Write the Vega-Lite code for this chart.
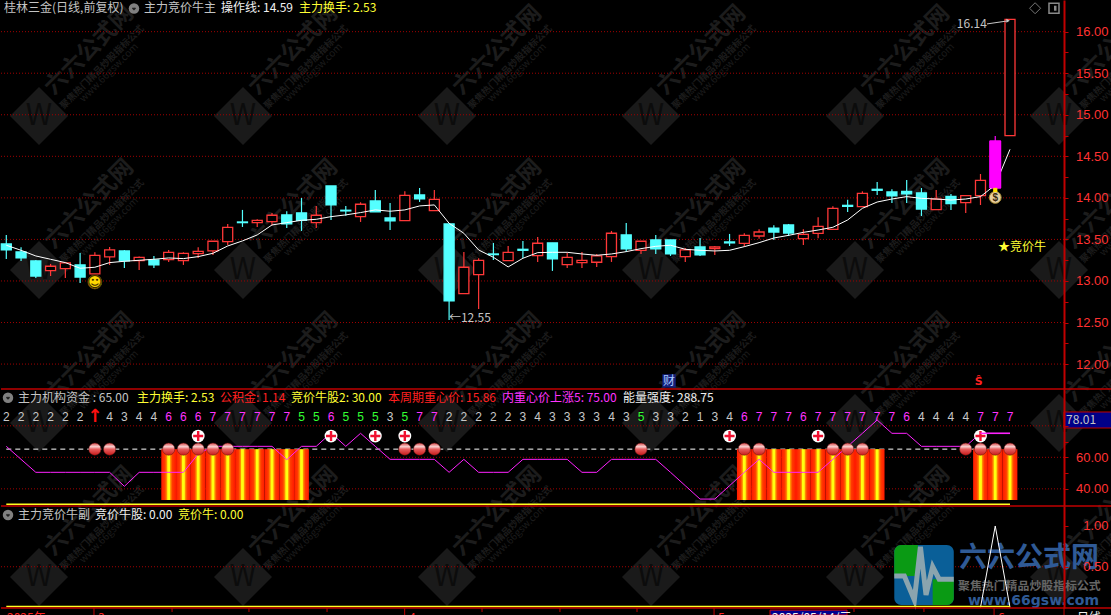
{
"$schema":"https://vega.github.io/schema/vega-lite/v6.json",
"background":"#000000","padding":0,"bounds":"flush","spacing":0,
"config":{"view":{"stroke":null},"concat":{"spacing":0},"text":{"font":"Noto Sans CJK SC","fontSize":12,"align":"left","baseline":"middle"}},
"resolve":{"scale":{"color":"independent","fill":"independent","stroke":"independent"}},
"datasets":{
"wm1":[{"i":2.215,"v":14.986},{"i":16.037,"v":14.986},{"i":29.858,"v":14.986},{"i":43.679,"v":14.986},{"i":57.5,"v":14.986},{"i":71.32,"v":14.986},{"i":2.215,"v":13.133},{"i":16.037,"v":13.133},{"i":29.858,"v":13.133},{"i":43.679,"v":13.133},{"i":57.5,"v":13.133},{"i":71.32,"v":13.133},{"i":2.215,"v":11.292},{"i":16.037,"v":11.292},{"i":29.858,"v":11.292},{"i":43.679,"v":11.292},{"i":57.5,"v":11.292},{"i":71.32,"v":11.292}],
"wm2":[{"i":2.215,"v":81.8},{"i":16.037,"v":81.8},{"i":29.858,"v":81.8},{"i":43.679,"v":81.8},{"i":57.5,"v":81.8},{"i":71.32,"v":81.8},{"i":2.215,"v":-15.9},{"i":16.037,"v":-15.9},{"i":29.858,"v":-15.9},{"i":43.679,"v":-15.9},{"i":57.5,"v":-15.9},{"i":71.32,"v":-15.9}],
"wm3":[{"i":2.215,"v":0.375},{"i":16.037,"v":0.375},{"i":29.858,"v":0.375},{"i":43.679,"v":0.375},{"i":57.5,"v":0.375},{"i":71.32,"v":0.375}],
"candles":[
{"i":0,"h":13.554,"t":13.446,"b":13.373,"l":13.265,"d":"d"},{"i":1,"h":13.405,"t":13.349,"b":13.277,"l":13.241,"d":"d"},{"i":2,"h":13.253,"t":13.241,"b":13.06,"l":13.036,"d":"d"},{"i":3,"h":13.205,"t":13.177,"b":13.125,"l":13.06,"d":"u"},{"i":4,"h":13.221,"t":13.217,"b":13.149,"l":13.036,"d":"u"},{"i":5,"h":13.337,"t":13.193,"b":13.048,"l":12.976,"d":"d"},{"i":6,"h":13.345,"t":13.309,"b":13.085,"l":13.085,"d":"u"},{"i":7,"h":13.409,"t":13.373,"b":13.289,"l":13.193,"d":"u"},{"i":8,"h":13.373,"t":13.361,"b":13.241,"l":13.157,"d":"d"},{"i":9,"h":13.293,"t":13.285,"b":13.245,"l":13.133,"d":"u"},
{"i":10,"h":13.301,"t":13.253,"b":13.193,"l":13.157,"d":"d"},{"i":11,"h":13.373,"t":13.345,"b":13.257,"l":13.229,"d":"u"},{"i":12,"h":13.345,"t":13.333,"b":13.245,"l":13.193,"d":"u"},{"i":13,"h":13.405,"t":13.357,"b":13.329,"l":13.277,"d":"u"},{"i":14,"h":13.478,"t":13.478,"b":13.361,"l":13.313,"d":"u"},{"i":15,"h":13.686,"t":13.646,"b":13.474,"l":13.434,"d":"u"},{"i":16,"h":13.855,"t":13.71,"b":13.702,"l":13.65,"d":"d"},{"i":17,"h":13.742,"t":13.73,"b":13.702,"l":13.65,"d":"u"},{"i":18,"h":13.819,"t":13.791,"b":13.714,"l":13.666,"d":"u"},{"i":19,"h":13.839,"t":13.795,"b":13.686,"l":13.638,"d":"d"},
{"i":20,"h":13.999,"t":13.819,"b":13.73,"l":13.602,"d":"d"},{"i":21,"h":13.903,"t":13.791,"b":13.702,"l":13.638,"d":"u"},{"i":22,"h":14.143,"t":14.143,"b":13.915,"l":13.734,"d":"d"},{"i":23,"h":13.903,"t":13.851,"b":13.843,"l":13.786,"d":"d"},{"i":24,"h":13.947,"t":13.923,"b":13.774,"l":13.71,"d":"u"},{"i":25,"h":14.095,"t":13.963,"b":13.831,"l":13.831,"d":"d"},{"i":26,"h":13.939,"t":13.758,"b":13.722,"l":13.614,"d":"d"},{"i":27,"h":14.079,"t":14.031,"b":13.726,"l":13.726,"d":"u"},{"i":28,"h":14.119,"t":14.035,"b":13.987,"l":13.951,"d":"d"},{"i":29,"h":14.095,"t":13.983,"b":13.847,"l":13.847,"d":"u"},
{"i":30,"h":13.686,"t":13.686,"b":12.76,"l":12.531,"d":"d"},{"i":31,"h":13.349,"t":13.165,"b":12.848,"l":12.848,"d":"u"},{"i":32,"h":13.273,"t":13.249,"b":13.077,"l":12.663,"d":"u"},{"i":33,"h":13.458,"t":13.325,"b":13.317,"l":13.253,"d":"d"},{"i":34,"h":13.421,"t":13.345,"b":13.245,"l":13.245,"d":"u"},{"i":35,"h":13.482,"t":13.381,"b":13.369,"l":13.277,"d":"d"},{"i":36,"h":13.53,"t":13.454,"b":13.305,"l":13.229,"d":"u"},{"i":37,"h":13.458,"t":13.458,"b":13.265,"l":13.121,"d":"d"},{"i":38,"h":13.337,"t":13.285,"b":13.197,"l":13.157,"d":"u"},{"i":39,"h":13.349,"t":13.249,"b":13.221,"l":13.157,"d":"u"},
{"i":40,"h":13.325,"t":13.301,"b":13.225,"l":13.169,"d":"u"},{"i":41,"h":13.602,"t":13.574,"b":13.293,"l":13.229,"d":"u"},{"i":42,"h":13.698,"t":13.554,"b":13.385,"l":13.349,"d":"d"},{"i":43,"h":13.478,"t":13.478,"b":13.369,"l":13.325,"d":"u"},{"i":44,"h":13.554,"t":13.494,"b":13.385,"l":13.325,"d":"d"},{"i":45,"h":13.494,"t":13.494,"b":13.325,"l":13.301,"d":"d"},{"i":46,"h":13.397,"t":13.373,"b":13.293,"l":13.229,"d":"u"},{"i":47,"h":13.518,"t":13.409,"b":13.313,"l":13.301,"d":"d"},{"i":48,"h":13.421,"t":13.409,"b":13.389,"l":13.313,"d":"u"},{"i":49,"h":13.566,"t":13.47,"b":13.458,"l":13.421,"d":"d"},
{"i":50,"h":13.573,"t":13.549,"b":13.453,"l":13.413,"d":"u"},{"i":51,"h":13.621,"t":13.589,"b":13.541,"l":13.509,"d":"u"},{"i":52,"h":13.67,"t":13.637,"b":13.589,"l":13.493,"d":"d"},{"i":53,"h":13.686,"t":13.674,"b":13.577,"l":13.541,"d":"d"},{"i":54,"h":13.621,"t":13.561,"b":13.509,"l":13.433,"d":"u"},{"i":55,"h":13.766,"t":13.658,"b":13.573,"l":13.513,"d":"u"},{"i":56,"h":13.898,"t":13.874,"b":13.621,"l":13.621,"d":"u"},{"i":57,"h":13.978,"t":13.91,"b":13.898,"l":13.83,"d":"d"},{"i":58,"h":14.079,"t":14.055,"b":13.894,"l":13.894,"d":"u"},{"i":59,"h":14.191,"t":14.103,"b":14.091,"l":14.035,"d":"d"},
{"i":60,"h":14.103,"t":14.071,"b":14.023,"l":13.938,"d":"d"},{"i":61,"h":14.215,"t":14.079,"b":14.047,"l":13.938,"d":"d"},{"i":62,"h":14.119,"t":14.059,"b":13.866,"l":13.782,"d":"d"},{"i":63,"h":14.095,"t":13.986,"b":13.858,"l":13.858,"d":"u"},{"i":64,"h":14.047,"t":14.019,"b":13.93,"l":13.854,"d":"d"},{"i":65,"h":14.027,"t":14.027,"b":13.942,"l":13.818,"d":"u"},{"i":66,"h":14.287,"t":14.211,"b":14.027,"l":13.914,"d":"u"},{"i":67,"h":14.745,"t":14.684,"b":14.119,"l":14.119,"d":"m"},{"i":68,"h":16.148,"t":16.148,"b":14.749,"l":14.749,"d":"u"}],
"ma":[{"i":0,"v":13.43},{"i":1,"v":13.369},{"i":2,"v":13.301},{"i":3,"v":13.261},{"i":4,"v":13.221},{"i":5,"v":13.153},{"i":6,"v":13.165},{"i":7,"v":13.221},{"i":8,"v":13.237},{"i":9,"v":13.249},{"i":10,"v":13.261},{"i":11,"v":13.277},{"i":12,"v":13.269},{"i":13,"v":13.293},{"i":14,"v":13.333},{"i":15,"v":13.421},{"i":16,"v":13.482},{"i":17,"v":13.554},{"i":18,"v":13.674},{"i":19,"v":13.702},{"i":20,"v":13.73},{"i":21,"v":13.742},{"i":22,"v":13.774},{"i":23,"v":13.795},{"i":24,"v":13.823},{"i":25,"v":13.855},{"i":26,"v":13.839},{"i":27,"v":13.855},{"i":28,"v":13.903},{"i":29,"v":13.915},{"i":30,"v":13.694},{"i":31,"v":13.574},{"i":32,"v":13.373},{"i":33,"v":13.285},{"i":34,"v":13.169},{"i":35,"v":13.273},{"i":36,"v":13.341},{"i":37,"v":13.345},{"i":38,"v":13.345},{"i":39,"v":13.325},{"i":40,"v":13.309},{"i":41,"v":13.325},{"i":42,"v":13.353},{"i":43,"v":13.389},{"i":44,"v":13.417},{"i":45,"v":13.43},{"i":46,"v":13.381},{"i":47,"v":13.369},{"i":48,"v":13.361},{"i":49,"v":13.369},{"i":50,"v":13.413},{"i":51,"v":13.461},{"i":52,"v":13.517},{"i":53,"v":13.549},{"i":54,"v":13.585},{"i":55,"v":13.613},{"i":56,"v":13.646},{"i":57,"v":13.734},{"i":58,"v":13.874},{"i":59,"v":13.95},{"i":60,"v":13.986},{"i":61,"v":14.015},{"i":62,"v":13.994},{"i":63,"v":13.986},{"i":64,"v":13.974},{"i":65,"v":13.986},{"i":66,"v":14.015},{"i":67,"v":14.155},{"i":68,"v":14.584}],
"force":[{"i":0,"v":66.98},{"i":1,"v":58.73},{"i":2,"v":50.48},{"i":3,"v":50.48},{"i":4,"v":50.48},{"i":5,"v":50.48},{"i":6,"v":50.48},{"i":7,"v":50.48},{"i":8,"v":41.59},{"i":9,"v":50.48},{"i":10,"v":50.48},{"i":11,"v":50.48},{"i":12,"v":50.48},{"i":13,"v":62.12},{"i":14,"v":66.98},{"i":15,"v":66.98},{"i":16,"v":66.98},{"i":17,"v":66.98},{"i":18,"v":66.98},{"i":19,"v":58.5},{"i":20,"v":66.98},{"i":21,"v":66.98},{"i":22,"v":75.45},{"i":23,"v":66.98},{"i":24,"v":75.24},{"i":25,"v":66.98},{"i":26,"v":58.73},{"i":27,"v":58.73},{"i":28,"v":58.73},{"i":29,"v":58.73},{"i":30,"v":50.48},{"i":31,"v":58.73},{"i":32,"v":50.48},{"i":33,"v":50.48},{"i":34,"v":50.48},{"i":35,"v":58.73},{"i":36,"v":58.73},{"i":37,"v":58.73},{"i":38,"v":58.73},{"i":39,"v":50.48},{"i":40,"v":50.48},{"i":41,"v":58.73},{"i":42,"v":58.73},{"i":43,"v":58.73},{"i":44,"v":58.73},{"i":45,"v":50.48},{"i":46,"v":42.0},{"i":47,"v":33.5},{"i":48,"v":33.5},{"i":49,"v":42.0},{"i":50,"v":50.48},{"i":51,"v":58.73},{"i":52,"v":50.48},{"i":53,"v":50.48},{"i":54,"v":50.48},{"i":55,"v":50.48},{"i":56,"v":58.73},{"i":57,"v":66.98},{"i":58,"v":75.24},{"i":59,"v":83.7},{"i":60,"v":75.24},{"i":61,"v":75.24},{"i":62,"v":66.98},{"i":63,"v":66.98},{"i":64,"v":66.98},{"i":65,"v":66.98},{"i":66,"v":75.24},{"i":67,"v":75.24},{"i":68,"v":75.24}],
"digits":[{"i":0,"n":2,"v":85.8},{"i":1,"n":2,"v":85.8},{"i":2,"n":2,"v":85.8},{"i":3,"n":2,"v":85.8},{"i":4,"n":2,"v":85.8},{"i":5,"n":2,"v":85.8},{"i":7,"n":4,"v":85.8},{"i":8,"n":3,"v":85.8},{"i":9,"n":4,"v":85.8},{"i":10,"n":4,"v":85.8},{"i":11,"n":6,"v":85.8},{"i":12,"n":6,"v":85.8},{"i":13,"n":6,"v":85.8},{"i":14,"n":7,"v":85.8},{"i":15,"n":7,"v":85.8},{"i":16,"n":7,"v":85.8},{"i":17,"n":7,"v":85.8},{"i":18,"n":7,"v":85.8},{"i":19,"n":7,"v":85.8},{"i":20,"n":5,"v":85.8},{"i":21,"n":5,"v":85.8},{"i":22,"n":6,"v":85.8},{"i":23,"n":5,"v":85.8},{"i":24,"n":5,"v":85.8},{"i":25,"n":5,"v":85.8},{"i":26,"n":3,"v":85.8},{"i":27,"n":5,"v":85.8},{"i":28,"n":7,"v":85.8},{"i":29,"n":7,"v":85.8},{"i":30,"n":2,"v":85.8},{"i":31,"n":2,"v":85.8},{"i":32,"n":2,"v":85.8},{"i":33,"n":2,"v":85.8},{"i":34,"n":2,"v":85.8},{"i":35,"n":3,"v":85.8},{"i":36,"n":4,"v":85.8},{"i":37,"n":3,"v":85.8},{"i":38,"n":3,"v":85.8},{"i":39,"n":3,"v":85.8},{"i":40,"n":3,"v":85.8},{"i":41,"n":4,"v":85.8},{"i":42,"n":3,"v":85.8},{"i":43,"n":5,"v":85.8},{"i":44,"n":3,"v":85.8},{"i":45,"n":3,"v":85.8},{"i":46,"n":2,"v":85.8},{"i":47,"n":1,"v":85.8},{"i":48,"n":3,"v":85.8},{"i":49,"n":4,"v":85.8},{"i":50,"n":6,"v":85.8},{"i":51,"n":7,"v":85.8},{"i":52,"n":7,"v":85.8},{"i":53,"n":7,"v":85.8},{"i":54,"n":6,"v":85.8},{"i":55,"n":7,"v":85.8},{"i":56,"n":7,"v":85.8},{"i":57,"n":7,"v":85.8},{"i":58,"n":7,"v":85.8},{"i":59,"n":7,"v":85.8},{"i":60,"n":7,"v":85.8},{"i":61,"n":6,"v":85.8},{"i":62,"n":4,"v":85.8},{"i":63,"n":4,"v":85.8},{"i":64,"n":4,"v":85.8},{"i":65,"n":4,"v":85.8},{"i":66,"n":7,"v":85.8},{"i":67,"n":7,"v":85.8},{"i":68,"n":7,"v":85.8}],
"bars":[{"i":11,"v":65.2,"v2":32.9},{"i":12,"v":65.2,"v2":32.9},{"i":13,"v":65.2,"v2":32.9},{"i":14,"v":65.2,"v2":32.9},{"i":15,"v":65.2,"v2":32.9},{"i":16,"v":65.2,"v2":32.9},{"i":17,"v":65.2,"v2":32.9},{"i":18,"v":65.2,"v2":32.9},{"i":19,"v":65.2,"v2":32.9},{"i":20,"v":65.2,"v2":32.9},{"i":50,"v":65.2,"v2":32.9},{"i":51,"v":65.2,"v2":32.9},{"i":52,"v":65.2,"v2":32.9},{"i":53,"v":65.2,"v2":32.9},{"i":54,"v":65.2,"v2":32.9},{"i":55,"v":65.2,"v2":32.9},{"i":56,"v":65.2,"v2":32.9},{"i":57,"v":65.2,"v2":32.9},{"i":58,"v":65.2,"v2":32.9},{"i":59,"v":65.2,"v2":32.9},{"i":66,"v":65.2,"v2":32.9},{"i":67,"v":65.2,"v2":32.9},{"i":68,"v":65.2,"v2":32.9}],
"balls":[{"i":6,"v":65.2},{"i":7,"v":65.2},{"i":11,"v":65.2},{"i":12,"v":65.2},{"i":13,"v":65.2},{"i":14,"v":65.2},{"i":15,"v":65.2},{"i":27,"v":65.2},{"i":28,"v":65.2},{"i":29,"v":65.2},{"i":43,"v":65.2},{"i":50,"v":65.2},{"i":51,"v":65.2},{"i":56,"v":65.2},{"i":57,"v":65.2},{"i":58,"v":65.2},{"i":65,"v":65.2},{"i":66,"v":65.2},{"i":67,"v":65.2},{"i":68,"v":65.2}],
"plus":[{"i":13,"v":73.5},{"i":22,"v":73.5},{"i":25,"v":73.5},{"i":27,"v":73.5},{"i":49,"v":73.5},{"i":55,"v":73.5},{"i":66,"v":73.5}],
"lab1":[{"i":-0.156,"v":16.279,"t":"桂林三金(日线,前复权)","tone":"grey"},{"i":9.329,"v":16.279,"t":"主力竞价牛主","tone":"grey"},{"i":14.546,"v":16.279,"t":"操作线: 14.59","tone":"white"},{"i":19.831,"v":16.279,"t":"主力换手: 2.53","tone":"yellow"},{"i":64.4,"v":16.087,"t":"16.14","tone":"grey"},{"i":29.99,"v":12.551,"t":"←12.55","tone":"grey"},{"i":67.19,"v":13.409,"t":"★竞价牛","tone":"yellow"}],
"lab2":[{"i":0.793,"v":97.86,"t":"主力机构资金 : 65.00","tone":"grey"},{"i":8.855,"v":97.86,"t":"主力换手: 2.53","tone":"yellow"},{"i":14.479,"v":97.86,"t":"公积金: 1.14","tone":"red"},{"i":19.289,"v":97.86,"t":"竞价牛股2: 30.00","tone":"yellow"},{"i":25.861,"v":97.86,"t":"本周期重心价: 15.86","tone":"red"},{"i":33.585,"v":97.86,"t":"内重心价上涨5: 75.00","tone":"magenta"},{"i":41.783,"v":97.86,"t":"能量强度: 288.75","tone":"white"},{"i":71.8,"v":83.7,"t":"78.01","tone":"grey"}],
"lab3":[{"i":0.793,"v":1.135,"t":"主力竞价牛副","tone":"grey"},{"i":6.009,"v":1.135,"t":"竞价牛股: 0.00","tone":"white"},{"i":11.632,"v":1.135,"t":"竞价牛: 0.00","tone":"yellow"}],
"lab4":[{"i":0.05,"v":0.286,"t":"2025年","tone":"red"},{"i":6.21,"v":0.286,"t":"3","tone":"red"},{"i":27.28,"v":0.286,"t":"4","tone":"red"},{"i":48.22,"v":0.286,"t":"5","tone":"red"},{"i":51.88,"v":0.286,"t":"2025/05/14/三","tone":"white"},{"i":67.19,"v":0.286,"t":"6","tone":"red"},{"i":72.54,"v":0.286,"t":"日线","tone":"white"}],
"ticks4":[{"i":5.94,"v":1,"v2":0},{"i":11.23,"v":1,"v2":0.43},{"i":16.44,"v":1,"v2":0.43},{"i":21.73,"v":1,"v2":0.43},{"i":26.99,"v":1,"v2":0},{"i":32.23,"v":1,"v2":0.43},{"i":37.51,"v":1,"v2":0.43},{"i":42.73,"v":1,"v2":0.43},{"i":47.95,"v":1,"v2":0},{"i":57.43,"v":1,"v2":0.43},{"i":62.17,"v":1,"v2":0.43},{"i":66.92,"v":1,"v2":0},{"i":71.66,"v":1,"v2":0}]
},
"vconcat":[
{"width":1111,"height":389,
"encoding":{"x":{"field":"i","type":"quantitative","axis":null,"scale":{"domain":[-0.359,74.91],"nice":false,"zero":false,"padding":0}},"y":{"field":"v","type":"quantitative","title":null,"scale":{"domain":[11.7,16.381],"nice":false,"zero":false},"axis":{"orient":"right","offset":-48,"grid":false,"zindex":1,"values":[12,12.25,12.5,12.75,13,13.25,13.5,13.75,14,14.25,14.5,14.75,15,15.25,15.5,15.75,16],"labelExpr":"datum.value*2==floor(datum.value*2)?format(datum.value,'.2f'):''","labelColor":"#ff3232","labelFont":"Liberation Sans","labelFontSize":13,"labelAlign":"right","labelPadding":40,"labelOverlap":false,"labelBound":false,"labelFlush":false,"tickSize":4,"tickColor":"#c00000","domainColor":"#c00000","domainWidth":2}}},
"layer":[
{"data":{"name":"wm1"},"mark":{"type":"point","shape":"diamond","filled":true,"opacity":1,"size":3364,"color":"#1a1a1a","clip":true}},
{"data":{"name":"wm1"},"mark":{"type":"text","text":"W","fontSize":30,"align":"center","color":"#0c0c0c","clip":true}},
{"data":{"name":"wm1"},"mark":{"type":"text","text":"六六公式网","fontSize":23,"fontWeight":"bold","align":"center","angle":-45,"dx":82,"dy":-11,"color":"#1c1c1c","clip":true}},
{"data":{"name":"wm1"},"mark":{"type":"text","text":"聚焦热门精品炒股指标公式","fontSize":9.5,"fontWeight":"bold","align":"center","angle":-45,"dx":79,"dy":10,"color":"#1c1c1c","clip":true}},
{"data":{"name":"wm1"},"mark":{"type":"text","text":"www.66gsw.com","fontSize":10,"align":"center","angle":-45,"dx":80,"dy":19,"color":"#1c1c1c","clip":true}},
{"data":{"values":[{"i":-0.359,"i2":71.66,"v":16},{"i":-0.359,"i2":71.66,"v":15.5},{"i":-0.359,"i2":71.66,"v":15},{"i":-0.359,"i2":71.66,"v":14.5},{"i":-0.359,"i2":71.66,"v":14},{"i":-0.359,"i2":71.66,"v":13.5},{"i":-0.359,"i2":71.66,"v":13},{"i":-0.359,"i2":71.66,"v":12.5},{"i":-0.359,"i2":71.66,"v":12}]},"mark":{"type":"rule","color":"#a00000","strokeDash":[1,2]},"encoding":{"x2":{"field":"i2"}}},
{"data":{"name":"candles"},"mark":{"type":"rule","strokeWidth":1.2},"encoding":{"y":{"field":"h","type":"quantitative","title":null},"y2":{"field":"l"},"stroke":{"field":"d","type":"nominal","legend":null,"scale":{"domain":["u","d","m"],"range":["#ff3838","#54ffff","#ff00ff"]}}}},
{"data":{"name":"candles"},"mark":{"type":"bar","width":10,"strokeWidth":1.3,"orient":"vertical"},"encoding":{"y":{"field":"t","type":"quantitative","title":null},"y2":{"field":"b"},"fill":{"field":"d","type":"nominal","legend":null,"scale":{"domain":["u","d","m"],"range":["#000000","#54ffff","#ff00ff"]}},"stroke":{"field":"d","type":"nominal","legend":null,"scale":{"domain":["u","d","m"],"range":["#ff3838","#54ffff","#ff00ff"]}}}},
{"data":{"name":"ma"},"mark":{"type":"line","color":"#ffffff","strokeWidth":1}},
{"data":{"name":"candles"},"transform":[{"filter":"datum.d=='m'"}],"mark":{"type":"bar","width":12,"color":"#ff00ff","orient":"vertical"},"encoding":{"y":{"field":"t","type":"quantitative","title":null},"y2":{"field":"b"}}},
{"data":{"values":[{"i":66.44,"v":16.093},{"i":67.87,"v":16.13}]},"mark":{"type":"line","color":"#c8c8c8","strokeWidth":1}},
{"data":{"values":[{"i":67.87,"v":16.13}]},"mark":{"type":"point","shape":"triangle-right","filled":true,"opacity":1,"size":16,"color":"#c8c8c8"}},
{"data":{"values":[{"i":6,"v":12.988}]},"mark":{"type":"point","shape":"circle","filled":true,"opacity":1,"size":190,"color":"#ffd800","stroke":"#6b4b00","strokeWidth":1}},
{"data":{"values":[{"i":6,"v":12.988}]},"mark":{"type":"text","text":"☺","font":"DejaVu Sans","fontSize":15,"align":"center","color":"#3b2a00"}},
{"data":{"values":[{"i":67,"v":14.005}]},"mark":{"type":"point","shape":"circle","filled":true,"opacity":1,"size":140,"color":"#e8cfa0","stroke":"#a88a30","strokeWidth":1}},
{"data":{"values":[{"i":67,"v":14.095}]},"mark":{"type":"point","shape":"square","filled":true,"opacity":1,"size":18,"color":"#ffe000"}},
{"data":{"values":[{"i":67,"v":14.0}]},"mark":{"type":"text","text":"$","font":"Liberation Sans","fontWeight":"bold","fontSize":10,"align":"center","color":"#3a2a10"}},
{"data":{"values":[{"i":44.9,"v":11.797}]},"mark":{"type":"point","shape":"square","filled":true,"opacity":1,"size":180,"color":"#14207a"}},
{"data":{"values":[{"i":44.9,"v":11.797}]},"mark":{"type":"text","text":"财","align":"center","color":"#a8c8ff"}},
{"data":{"values":[{"i":65.88,"v":11.785}]},"mark":{"type":"text","text":"Ŝ","font":"DejaVu Sans","fontSize":11,"fontWeight":"bold","align":"center","color":"#ff2020"}},
{"data":{"values":[{"i":8.65,"v":16.279}]},"mark":{"type":"point","shape":"circle","filled":true,"opacity":1,"size":110,"color":"#808080"}},
{"data":{"values":[{"i":8.65,"v":16.279}]},"mark":{"type":"point","shape":"M-0.5,-0.2L0,0.3L0.5,-0.2","filled":false,"opacity":1,"size":36,"color":"#202020","strokeWidth":1.5}},
{"data":{"values":[{"i":69.7,"v":16.282}]},"mark":{"type":"point","shape":"diamond","filled":false,"opacity":1,"size":121,"color":"#777777","strokeWidth":1}},
{"data":{"values":[{"i":70.98,"v":16.282}]},"mark":{"type":"point","shape":"square","filled":false,"opacity":1,"size":100,"color":"#8a8a8a","strokeWidth":1.5}},
{"data":{"values":[{"i":70.98,"v":16.282}]},"mark":{"type":"point","shape":"M0,-0.5L0.5,-0.5L0.5,0.5L0,0.5Z","filled":true,"opacity":1,"size":100,"color":"#8a8a8a"}},
{"data":{"name":"lab1"},"mark":{"type":"text"},"encoding":{"text":{"field":"t"},"color":{"field":"tone","type":"nominal","legend":null,"scale":{"domain":["grey","white","yellow","red","magenta"],"range":["#c4c4c4","#f0f0f0","#ffff33","#ff2020","#ff33ff"]}}}}
]},
{"width":1111,"height":117,
"encoding":{"x":{"field":"i","type":"quantitative","axis":null,"scale":{"domain":[-0.359,74.91],"nice":false,"zero":false,"padding":0}},"y":{"field":"v","type":"quantitative","title":null,"scale":{"domain":[29.1,103.38],"nice":false,"zero":false},"axis":{"orient":"right","offset":-48,"grid":false,"zindex":1,"values":[40,50,60,70,80],"labelExpr":"(datum.value==40||datum.value==60)?format(datum.value,'.2f'):''","labelColor":"#ff3232","labelFont":"Liberation Sans","labelFontSize":13,"labelAlign":"right","labelPadding":40,"labelOverlap":false,"labelBound":false,"labelFlush":false,"tickSize":4,"tickColor":"#c00000","domainColor":"#c00000","domainWidth":2}}},
"layer":[
{"data":{"name":"wm2"},"mark":{"type":"point","shape":"diamond","filled":true,"opacity":1,"size":3364,"color":"#1a1a1a","clip":true}},
{"data":{"name":"wm2"},"mark":{"type":"text","text":"W","fontSize":30,"align":"center","color":"#0c0c0c","clip":true}},
{"data":{"name":"wm2"},"mark":{"type":"text","text":"六六公式网","fontSize":23,"fontWeight":"bold","align":"center","angle":-45,"dx":82,"dy":-11,"color":"#1c1c1c","clip":true}},
{"data":{"name":"wm2"},"mark":{"type":"text","text":"聚焦热门精品炒股指标公式","fontSize":9.5,"fontWeight":"bold","align":"center","angle":-45,"dx":79,"dy":10,"color":"#1c1c1c","clip":true}},
{"data":{"name":"wm2"},"mark":{"type":"text","text":"www.66gsw.com","fontSize":10,"align":"center","angle":-45,"dx":80,"dy":19,"color":"#1c1c1c","clip":true}},
{"data":{"values":[{"i":-0.359,"i2":74.91,"v":103.38}]},"mark":{"type":"rule","color":"#c00000","strokeWidth":1.5},"encoding":{"x2":{"field":"i2"}}},
{"data":{"values":[{"i":-0.359,"i2":71.66,"v":80},{"i":-0.359,"i2":71.66,"v":60},{"i":-0.359,"i2":71.66,"v":40}]},"mark":{"type":"rule","color":"#a00000","strokeDash":[1,2]},"encoding":{"x2":{"field":"i2"}}},
{"data":{"values":[{"i":0,"i2":68,"v":65.2}]},"mark":{"type":"rule","color":"#ffffff","strokeDash":[5,4],"strokeWidth":1},"encoding":{"x2":{"field":"i2"}}},
{"data":{"name":"bars"},"mark":{"type":"bar","width":14.76,"orient":"vertical","color":{"gradient":"linear","x1":0,"x2":1,"y1":0,"y2":0,"stops":[{"offset":0,"color":"#ff1800"},{"offset":0.25,"color":"#ff3c00"},{"offset":0.37,"color":"#ff9000"},{"offset":0.44,"color":"#ffff10"},{"offset":0.56,"color":"#ffff10"},{"offset":0.63,"color":"#ff9000"},{"offset":0.75,"color":"#ff3c00"},{"offset":1,"color":"#ff1800"}]}},"encoding":{"y2":{"field":"v2"}}},
{"data":{"values":[{"i":0,"i2":68,"v":30.2}]},"mark":{"type":"rule","color":"#ffff20","strokeWidth":1.5},"encoding":{"x2":{"field":"i2"}}},
{"data":{"name":"force"},"mark":{"type":"line","color":"#ff22ff","strokeWidth":1}},
{"data":{"name":"balls"},"mark":{"type":"point","shape":"circle","filled":true,"opacity":1,"size":150,"strokeWidth":0.5,"stroke":"#601010","color":{"gradient":"linear","x1":0,"x2":0,"y1":0,"y2":1,"stops":[{"offset":0,"color":"#d84848"},{"offset":0.3,"color":"#f8d0d0"},{"offset":0.5,"color":"#e86060"},{"offset":1,"color":"#c81818"}]}}},
{"data":{"name":"plus"},"mark":{"type":"point","shape":"circle","filled":true,"opacity":1,"size":165,"color":"#ffffff"}},
{"data":{"name":"plus"},"mark":{"type":"point","shape":"M-0.5,-0.12L-0.12,-0.12L-0.12,-0.5L0.12,-0.5L0.12,-0.12L0.5,-0.12L0.5,0.12L0.12,0.12L0.12,0.5L-0.12,0.5L-0.12,0.12L-0.5,0.12Z","filled":true,"opacity":1,"size":400,"color":"#f01030"}},
{"data":{"values":[{"i":66,"v":75.24},{"i":68,"v":75.24}]},"mark":{"type":"line","color":"#ff22ff","strokeWidth":1.5}},
{"data":{"name":"digits"},"mark":{"type":"text","font":"Liberation Sans","align":"center","fontSize":12},"encoding":{"text":{"field":"n"},"fill":{"field":"n","type":"ordinal","legend":null,"scale":{"domain":[1,2,3,4,5,6,7],"range":["#c8c8c8","#c8c8c8","#c8c8c8","#c8c8c8","#33ff33","#ff33ff","#ff33ff"]}}}},
{"data":{"values":[{"i":6,"v":85.8}]},"mark":{"type":"text","text":"↑","font":"DejaVu Sans","fontSize":18,"fontWeight":"bold","align":"center","color":"#ff1010"}},
{"data":{"values":[{"i":0.115,"v":97.86}]},"mark":{"type":"point","shape":"circle","filled":true,"opacity":1,"size":110,"color":"#808080"}},
{"data":{"values":[{"i":0.115,"v":97.86}]},"mark":{"type":"point","shape":"M-0.5,-0.2L0,0.3L0.5,-0.2","filled":false,"opacity":1,"size":36,"color":"#202020","strokeWidth":1.5}},
{"data":{"values":[{"i":71.66,"i2":74.91,"v":88.78,"v2":78.62}]},"mark":{"type":"rect","color":"#000088","stroke":"#c00000","strokeWidth":1},"encoding":{"x2":{"field":"i2"},"y2":{"field":"v2"}}},
{"data":{"name":"lab2"},"mark":{"type":"text"},"encoding":{"text":{"field":"t"},"color":{"field":"tone","type":"nominal","legend":null,"scale":{"domain":["grey","white","yellow","red","magenta"],"range":["#c4c4c4","#f0f0f0","#ffff33","#ff2020","#ff33ff"]}}}}
]},
{"width":1111,"height":102,
"encoding":{"x":{"field":"i","type":"quantitative","axis":null,"scale":{"domain":[-0.359,74.91],"nice":false,"zero":false,"padding":0}},"y":{"field":"v","type":"quantitative","title":null,"scale":{"domain":[-0.006,1.245],"nice":false,"zero":false},"axis":{"orient":"right","offset":-48,"grid":false,"zindex":1,"values":[0.5,1],"format":".2f","labelColor":"#ff3232","labelFont":"Liberation Sans","labelFontSize":13,"labelAlign":"right","labelPadding":40,"labelOverlap":false,"labelBound":false,"labelFlush":false,"tickSize":4,"tickColor":"#c00000","domainColor":"#c00000","domainWidth":2}}},
"layer":[
{"data":{"name":"wm3"},"mark":{"type":"point","shape":"diamond","filled":true,"opacity":1,"size":3364,"color":"#1a1a1a","clip":true}},
{"data":{"name":"wm3"},"mark":{"type":"text","text":"W","fontSize":30,"align":"center","color":"#0c0c0c","clip":true}},
{"data":{"name":"wm3"},"mark":{"type":"text","text":"六六公式网","fontSize":23,"fontWeight":"bold","align":"center","angle":-45,"dx":82,"dy":-11,"color":"#1c1c1c","clip":true}},
{"data":{"name":"wm3"},"mark":{"type":"text","text":"聚焦热门精品炒股指标公式","fontSize":9.5,"fontWeight":"bold","align":"center","angle":-45,"dx":79,"dy":10,"color":"#1c1c1c","clip":true}},
{"data":{"name":"wm3"},"mark":{"type":"text","text":"www.66gsw.com","fontSize":10,"align":"center","angle":-45,"dx":80,"dy":19,"color":"#1c1c1c","clip":true}},
{"data":{"values":[{"i":-0.359,"i2":74.91,"v":1.245}]},"mark":{"type":"rule","color":"#c00000","strokeWidth":1.5},"encoding":{"x2":{"field":"i2"}}},
{"data":{"values":[{"i":-0.359,"i2":71.66,"v":0.5}]},"mark":{"type":"rule","color":"#a00000","strokeDash":[1,2]},"encoding":{"x2":{"field":"i2"}}},
{"data":{"values":[{"i":60.16,"i2":64.19,"v":0.767,"v2":0.032}]},"mark":{"type":"rect","color":"#0a5f98","cornerRadius":7},"encoding":{"x2":{"field":"i2"},"y2":{"field":"v2"}}},
{"data":{"values":[{"i":60.16,"i2":61.76,"v":0.767,"v2":0.387}]},"mark":{"type":"rect","color":"#0a9a14","cornerRadiusTopLeft":7},"encoding":{"x2":{"field":"i2"},"y2":{"field":"v2"}}},
{"data":{"values":[{"i":62.76,"i2":64.19,"v":0.347,"v2":0.032}]},"mark":{"type":"rect","color":"#0a9a14","cornerRadiusBottomRight":7},"encoding":{"x2":{"field":"i2"},"y2":{"field":"v2"}}},
{"data":{"values":[{"i":60.16,"v":0.387},{"i":60.84,"v":0.387},{"i":61.52,"v":0.093},{"i":61.93,"v":0.746},{"i":62.31,"v":0.154},{"i":62.76,"v":0.501},{"i":63.2,"v":0.347},{"i":64.19,"v":0.347}]},"mark":{"type":"line","color":"#8aa4ae","strokeWidth":5,"strokeJoin":"miter"}},
{"data":{"values":[{"i":64.55,"v":0.595}]},"mark":{"type":"text","text":"六六公式网","fontSize":28,"fontWeight":"bold","color":"#2f5a96"}},
{"data":{"values":[{"i":64.48,"v":0.265}]},"mark":{"type":"text","text":"聚焦热门精品炒股指标公式","fontSize":11.9,"fontWeight":"bold","color":"#666666"}},
{"data":{"values":[{"i":65.16,"v":0.081}]},"mark":{"type":"text","text":"www.66gsw.com","font":"DejaVu Sans","fontSize":14,"fontWeight":"bold","color":"#2f5a96"}},
{"data":{"values":[{"i":66,"v":0},{"i":67,"v":1},{"i":68,"v":0}]},"mark":{"type":"line","color":"#ffffff","strokeWidth":1}},
{"data":{"values":[{"i":0,"i2":68,"v":0.012}]},"mark":{"type":"rule","color":"#ffff20","strokeWidth":1.5},"encoding":{"x2":{"field":"i2"}}},
{"data":{"values":[{"i":0.115,"v":1.135}]},"mark":{"type":"point","shape":"circle","filled":true,"opacity":1,"size":110,"color":"#808080"}},
{"data":{"values":[{"i":0.115,"v":1.135}]},"mark":{"type":"point","shape":"M-0.5,-0.2L0,0.3L0.5,-0.2","filled":false,"opacity":1,"size":36,"color":"#202020","strokeWidth":1.5}},
{"data":{"name":"lab3"},"mark":{"type":"text"},"encoding":{"text":{"field":"t"},"color":{"field":"tone","type":"nominal","legend":null,"scale":{"domain":["grey","white","yellow","red","magenta"],"range":["#c4c4c4","#f0f0f0","#ffff33","#ff2020","#ff33ff"]}}}}
]},
{"width":1111,"height":7,
"encoding":{"x":{"field":"i","type":"quantitative","axis":null,"scale":{"domain":[-0.359,74.91],"nice":false,"zero":false,"padding":0}},"y":{"field":"v","type":"quantitative","axis":null,"scale":{"domain":[0,1],"nice":false,"zero":false}}},
"layer":[
{"data":{"name":"ticks4"},"mark":{"type":"rule","color":"#c00000","strokeWidth":1},"encoding":{"y2":{"field":"v2"}}},
{"data":{"values":[{"i":51.74,"i2":56.96,"v":0.7,"v2":0}]},"mark":{"type":"rect","color":"#000090","stroke":"#d00000","strokeWidth":1,"clip":true},"encoding":{"x2":{"field":"i2"},"y2":{"field":"v2"}}},
{"data":{"values":[{"i":-0.359,"i2":74.91,"v":1}]},"mark":{"type":"rule","color":"#c00000","strokeWidth":1.5},"encoding":{"x2":{"field":"i2"}}},
{"data":{"name":"lab4"},"mark":{"type":"text","clip":true,"baseline":"top"},"encoding":{"text":{"field":"t"},"color":{"field":"tone","type":"nominal","legend":null,"scale":{"domain":["grey","white","yellow","red","magenta"],"range":["#c4c4c4","#f0f0f0","#ffff33","#ff2020","#ff33ff"]}}}}
]}
]}
